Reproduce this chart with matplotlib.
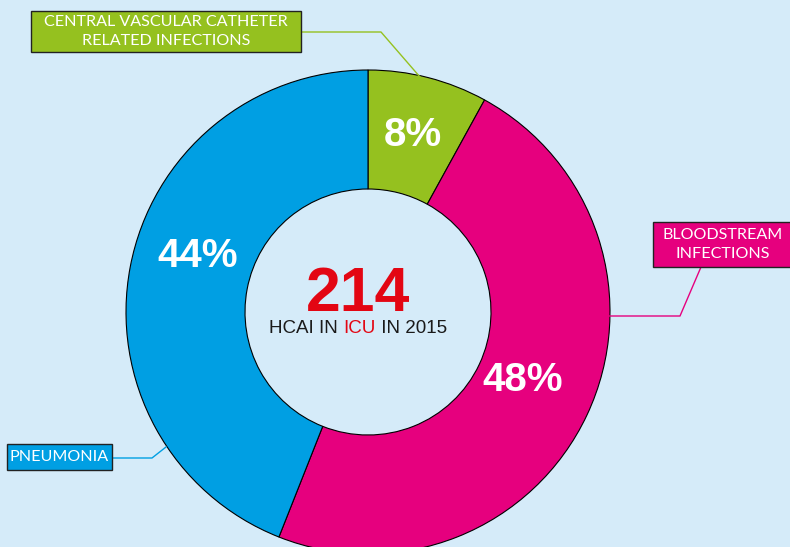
import matplotlib
matplotlib.use('Agg')
import matplotlib.pyplot as plt
from matplotlib.patches import Rectangle

plt.rcParams['font.family'] = ['Liberation Sans', 'DejaVu Sans']

# data
labels = ['CENTRAL VASCULAR CATHETER\nRELATED INFECTIONS', 'BLOODSTREAM\nINFECTIONS', 'PNEUMONIA']
shares = [8, 48, 44]
colors = ['#95c11f', '#e6007e', '#009fe3']
total = 214
subtitle = ['HCAI IN ', 'ICU', ' IN 2015']
bg = '#d5ebf9'

W, H = 790, 547
fig = plt.figure(figsize=(W / 100, H / 100), dpi=100)
fig.patch.set_facecolor(bg)
ax = fig.add_axes([0, 0, 1, 1])
ax.set_facecolor(bg)

def Y(y):
    # pixel row -> data y (y axis goes up)
    return H - y

cx, cy, R, r = 368, 312, 242, 123
ax.pie(shares, colors=colors, startangle=90, counterclock=False,
       radius=R, center=(cx, Y(cy)),
       wedgeprops=dict(width=R - r, edgecolor='black', linewidth=0.8))
ax.set_xlim(0, W)
ax.set_ylim(0, H)
ax.set_aspect('equal')
ax.axis('off')

# percentages on the ring
pct_pos = [(413, 135), (523, 380), (198, 256)]
for s, (px, py) in zip(shares, pct_pos):
    ax.text(px, Y(py), f'{s}%', color='white', fontsize=29, fontweight='bold',
            ha='center', va='center')

# centre text
ax.text(cx - 10, Y(311), str(total), color='#e30613', fontsize=45,
        fontweight='bold', ha='center', va='baseline')
fig.canvas.draw()
rend = fig.canvas.get_renderer()
parts = []
for s, c in zip(subtitle, ['#1a1a1a', '#e30613', '#1a1a1a']):
    t = ax.text(0, Y(333), s, color=c, fontsize=13.5, ha='left', va='baseline')
    parts.append(t)
widths = [t.get_window_extent(rend).width for t in parts]
x0 = 358 - sum(widths) / 2
for t, w in zip(parts, widths):
    t.set_x(x0)
    x0 += w

# label boxes and leader lines
boxes = [(31, 11, 270, 41), (653, 222, 140, 45), (7, 444, 105, 26)]
leaders = [
    [(300, 32), (381, 32), (420, 77)],
    [(701, 267), (680, 316), (609, 316)],
    [(112, 458), (152, 458), (166, 447)],
]
for lab, col, (bx, by, bw, bh), pts in zip(labels, colors, boxes, leaders):
    ax.add_patch(Rectangle((bx, Y(by + bh)), bw, bh, facecolor=col,
                           edgecolor='#222222', linewidth=1, zorder=3))
    ax.text(bx + bw / 2, Y(by + bh / 2), lab, color='white', fontsize=11.6,
            family=['Lato', 'DejaVu Sans'], ha='center', va='center',
            linespacing=1.4, zorder=4)
    ax.plot([p[0] for p in pts], [Y(p[1]) for p in pts], color=col,
            linewidth=1, zorder=2)

fig.savefig('out.png', dpi=100, facecolor=bg)
